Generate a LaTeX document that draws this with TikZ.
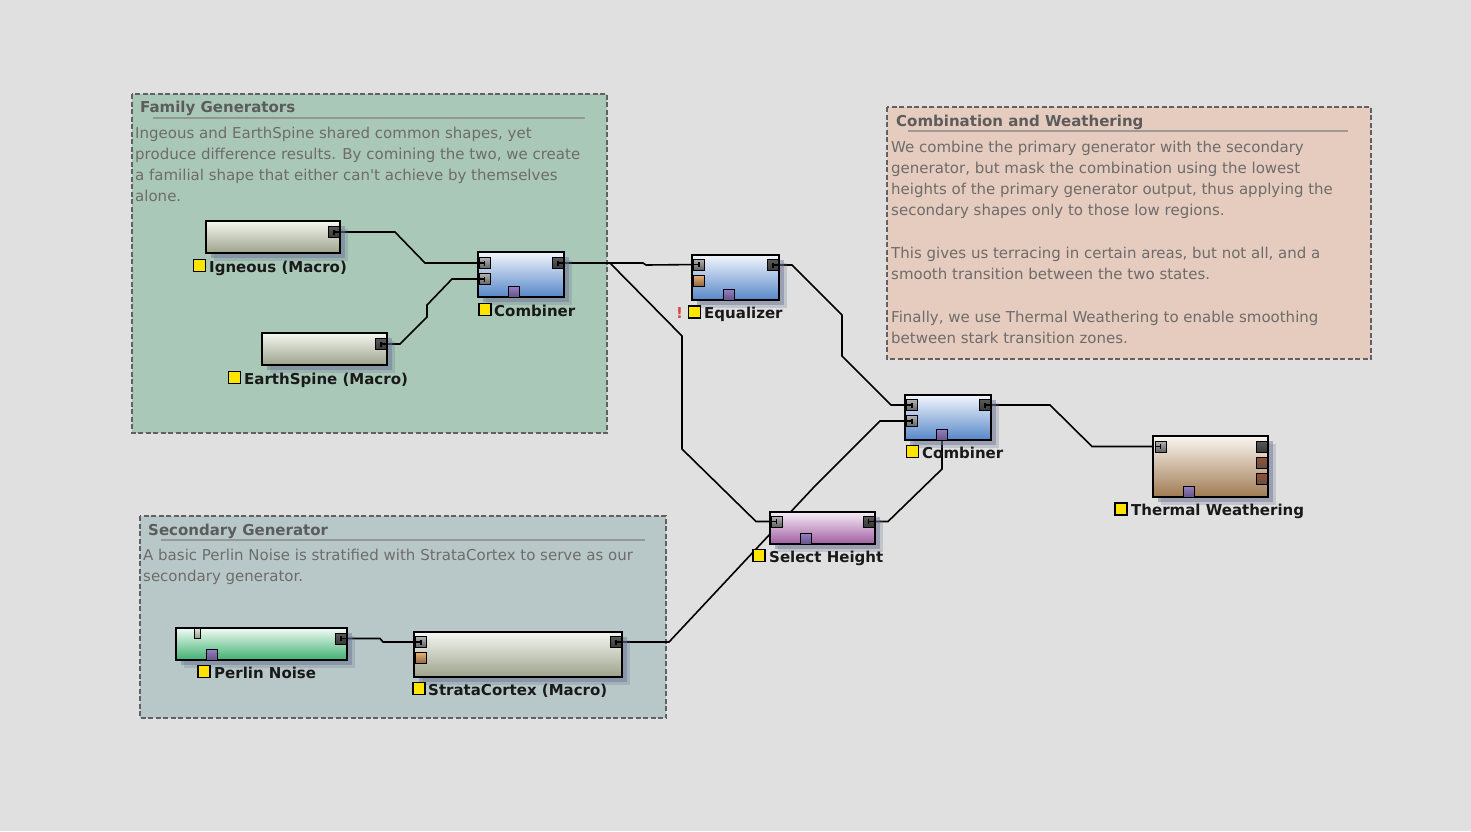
\documentclass[tikz,border=0pt]{standalone}
\usepackage{fontspec}
\setmainfont{DejaVu Sans}
\usetikzlibrary{shadows}
\pgfdeclarelayer{bg}
\pgfdeclarelayer{edges}
\pgfsetlayers{bg,edges,main}
\definecolor{bgc}{HTML}{E0E0E0}
\definecolor{famc}{HTML}{A9C8B7}
\definecolor{secc}{HTML}{B8C8C8}
\definecolor{comc}{HTML}{E6CBBF}
\definecolor{bodyc}{HTML}{6E6C6A}
\definecolor{titlec}{HTML}{5C5C5C}
\definecolor{yelc}{HTML}{FFE400}
\definecolor{shadowc}{HTML}{6A7494}
\definecolor{macT}{HTML}{F6F7F2}
\definecolor{macB}{HTML}{9CA38A}
\definecolor{bluT}{HTML}{F2F6FC}
\definecolor{bluB}{HTML}{5687C8}
\definecolor{purT}{HTML}{F6ECF6}
\definecolor{purB}{HTML}{A05EA0}
\definecolor{thmT}{HTML}{FAF6F2}
\definecolor{thmB}{HTML}{A07A52}
\definecolor{grnT}{HTML}{F2FBF6}
\definecolor{grnB}{HTML}{3EB070}
\begin{document}
\begin{tikzpicture}[x=1pt,y=-1pt,
  grp/.style={draw=black!62, line width=1.8pt, dash pattern=on 5pt off 2.5pt},
  gtitle/.style={font=\bfseries\fontsize{15}{18}\selectfont, text=titlec, anchor=base west, inner sep=0},
  uline/.style={draw=black!45, line width=1.3pt, opacity=0.8},
  body/.style={font=\fontsize{15}{18}\selectfont, text=bodyc, anchor=base west, inner sep=0},
  nbox/.style={draw=black, line width=1.8pt, inner sep=0,
    general shadow={shadow xshift=8pt, shadow yshift=-8pt, fill=shadowc, opacity=0.25},
    drop shadow={shadow xshift=5pt, shadow yshift=-5pt, fill=shadowc, opacity=0.45}},
  port/.style={draw=black, line width=0.9pt, minimum width=11pt, minimum height=11pt, inner sep=0},
  pin/.style={port, top color=black!30, bottom color=black!62,
    path picture={\draw[line width=1.3pt] (path picture bounding box.west) -- (path picture bounding box.center) ++(0,-2.5) -- ++(0,5);}},
  pout/.style={port, top color=black!65, bottom color=black!78,
    path picture={\draw[line width=1.3pt] (path picture bounding box.east) -- (path picture bounding box.center) ++(0,-2.5) -- ++(0,5);}},
  pdark/.style={port, top color=black!65, bottom color=black!78},
  porange/.style={port, top color={rgb,255:red,236;green,178;blue,112}, bottom color={rgb,255:red,140;green,100;blue,70}},
  pbrown/.style={port, top color={rgb,255:red,150;green,80;blue,50}, bottom color={rgb,255:red,100;green,80;blue,70}},
  pmask/.style={port, top color={rgb,255:red,150;green,128;blue,200}, bottom color={rgb,255:red,100;green,84;blue,130}},
  ysq/.style={draw=black, line width=1.2pt, fill=yelc, minimum width=12pt, minimum height=12pt, inner sep=0},
  lbl/.style={font=\bfseries\fontsize{15}{18}\selectfont, text=black!90, anchor=base west, inner sep=0},
  conn/.style={draw=black, line width=1.6pt, line join=miter}
]
\useasboundingbox (0,0) rectangle (1471,831);

% ---------- background and group boxes ----------
\begin{pgfonlayer}{bg}
\fill[bgc] (0,0) rectangle (1471,831);
\coordinate (famA) at (132,94);  \coordinate (famB) at (607,433);
\coordinate (secA) at (140,516); \coordinate (secB) at (666,718);
\coordinate (comA) at (887,107); \coordinate (comB) at (1371,359);
\path[grp, fill=famc] (famA) rectangle (famB);
\path[grp, fill=secc] (secA) rectangle (secB);
\path[grp, fill=comc] (comA) rectangle (comB);
\end{pgfonlayer}

\node[gtitle] (famT) at (140,112) {Family Generators};
\draw[uline] (153,118) -- (585,118);
\foreach \t [count=\i] in {{Ingeous and EarthSpine shared common shapes, yet},
  {produce difference results. By comining the two, we create},
  {a familial shape that either can\textquotesingle t achieve by themselves},
  {alone.}}
  \node[body, name=fb\i] at (135,{138+21.2*(\i-1)}) {\t};

\node[gtitle] (secT) at (148,535) {Secondary Generator};
\draw[uline] (161,540) -- (645,540);
\node[body] (sb1) at (143,560) {A basic Perlin Noise is stratified with StrataCortex to serve as our};
\node[body] (sb2) at (143,581) {secondary generator.};

\node[gtitle] (comT) at (896,126) {Combination and Weathering};
\draw[uline] (908,131) -- (1348,131);
\foreach \t/\yy [count=\i] in {{We combine the primary generator with the secondary}/152,
  {generator, but mask the combination using the lowest}/173,
  {heights of the primary generator output, thus applying the}/194,
  {secondary shapes only to those low regions.}/215,
  {This gives us terracing in certain areas, but not all, and a}/258,
  {smooth transition between the two states.}/279,
  {Finally, we use Thermal Weathering to enable smoothing}/322,
  {between stark transition zones.}/343}
  \node[body, name=cb\i] at (891,\yy) {\t};

% ---------- nodes ----------
\node[nbox, top color=macT, bottom color=macB, minimum width=134pt, minimum height=32pt] (ign) at (273,237) {};
\node[pout] (ign-o) at (334,232) {};
\node[ysq] (ign-y) at (199.5,265.5) {};
\node[lbl] (ign-l) at (209,272) {Igneous (Macro)};

\node[nbox, top color=macT, bottom color=macB, minimum width=125pt, minimum height=32pt] (es) at (324.5,349) {};
\node[pout] (es-o) at (381,344) {};
\node[ysq] (es-y) at (234.5,377.5) {};
\node[lbl] (es-l) at (244,384) {EarthSpine (Macro)};

\node[nbox, top color=bluT, bottom color=bluB, minimum width=86pt, minimum height=45pt] (c1) at (521,274.5) {};
\node[pin] (c1-i1) at (484.5,263) {};
\node[pin] (c1-i2) at (484.5,279) {};
\node[pout] (c1-o) at (558,263) {};
\node[pmask, minimum height=11pt] (c1-m) at (514,291.5) {};
\node[ysq] (c1-y) at (485,309.5) {};
\node[lbl] (c1-l) at (494,316) {Combiner};

\node[nbox, top color=bluT, bottom color=bluB, minimum width=87pt, minimum height=45pt] (eq) at (735.5,277.5) {};
\node[pin] (eq-i1) at (699,264.5) {};
\node[porange] (eq-i2) at (699,280.5) {};
\node[pout] (eq-o) at (773,265) {};
\node[pmask] (eq-m) at (729,294.5) {};
\node[ysq] (eq-y) at (694.5,312) {};
\node[lbl] (eq-l) at (704,318) {Equalizer};
\node[font=\bfseries\fontsize{15}{18}\selectfont, text={rgb,255:red,220;green,70;blue,70}, anchor=base west, inner sep=0] (eq-w) at (676,318) {!};

\node[nbox, top color=bluT, bottom color=bluB, minimum width=86pt, minimum height=45pt] (c2) at (948,417.5) {};
\node[pin] (c2-i1) at (912,405) {};
\node[pin] (c2-i2) at (912,421) {};
\node[pout] (c2-o) at (985,405) {};
\node[pmask] (c2-m) at (942,434.5) {};
\node[ysq] (c2-y) at (912.5,451.5) {};
\node[lbl] (c2-l) at (922,458) {Combiner};

\node[nbox, top color=purT, bottom color=purB, minimum width=105pt, minimum height=32pt] (sh) at (822.5,528) {};
\node[pin] (sh-i) at (776.5,521.5) {};
\node[pout] (sh-o) at (868.5,521.5) {};
\node[pmask] (sh-m) at (806,538.5) {};
\node[ysq] (sh-y) at (759,555.5) {};
\node[lbl] (sh-l) at (769,562) {Select Height};

\node[nbox, top color=thmT, bottom color=thmB, minimum width=115pt, minimum height=61pt] (tw) at (1210.5,466.5) {};
\node[pin] (tw-i) at (1160.5,446.5) {};
\node[pdark] (tw-o1) at (1261.5,446.5) {};
\node[pbrown] (tw-o2) at (1261.5,462.5) {};
\node[pbrown] (tw-o3) at (1261.5,478.5) {};
\node[pmask] (tw-m) at (1189,491.5) {};
\node[ysq] (tw-y) at (1121,509) {};
\node[lbl] (tw-l) at (1131,515) {Thermal Weathering};

\node[nbox, top color=grnT, bottom color=grnB, minimum width=171pt, minimum height=32pt] (pn) at (261.5,644) {};
\node[port, minimum width=6pt, minimum height=10pt, top color=white!90!black, bottom color={rgb,255:red,150;green,160;blue,130}] (pn-t) at (197,633) {};
\node[pout] (pn-o) at (341,638.5) {};
\node[pmask] (pn-m) at (212,654.5) {};
\node[ysq] (pn-y) at (204,671.5) {};
\node[lbl] (pn-l) at (214,678) {Perlin Noise};

\node[nbox, top color=macT, bottom color=macB, minimum width=208pt, minimum height=45pt] (sc) at (518,654.5) {};
\node[pin] (sc-i1) at (421,642) {};
\node[porange] (sc-i2) at (421,658) {};
\node[pout] (sc-o) at (616,642) {};
\node[ysq] (sc-y) at (419,688.5) {};
\node[lbl] (sc-l) at (428,695) {StrataCortex (Macro)};

% ---------- connectors ----------
\begin{pgfonlayer}{edges}
\draw[conn] (ign-o.center) -- (395,232) -- (425,263) -- (c1-i1.center);
\draw[conn] (es-o.center) -- (400,344) -- (427,317) -- (427,305) -- (452,279) -- (c1-i2.center);
\draw[conn] (c1-o.center) -- (643,263) -- (646,265) -- (eq-i1.center);
\draw[conn] (c1-o.center) -- (610,263) -- (682,336) -- (682,449) -- (756,521.5) -- (sh-i.center);
\draw[conn] (eq-o.center) -- (792,265) -- (842,315) -- (842,356) -- (891,405) -- (c2-i1.center);
\draw[conn] (sc-o.center) -- (669,642) -- (814,487) -- (880,421) -- (c2-i2.center);
\draw[conn] (sh-o.center) -- (888,521.5) -- (942,469) -- (c2-m.center);
\draw[conn] (c2-o.center) -- (1050,405) -- (1092,446.5) -- (tw-i.center);
\draw[conn] (pn-o.center) -- (380,638.5) -- (383,642) -- (sc-i1.center);
\end{pgfonlayer}
\end{tikzpicture}
\end{document}
